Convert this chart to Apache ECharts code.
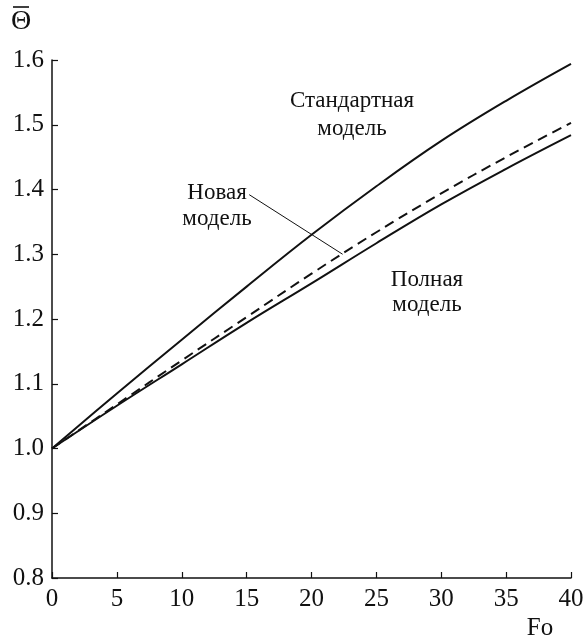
<!DOCTYPE html>
<html>
<head>
<meta charset="utf-8">
<script src="https://cdn.jsdelivr.net/npm/echarts@6/dist/echarts.min.js"></script>
<style>html,body{margin:0;padding:0;background:#fff}#c{width:587px;height:640px}</style>
</head>
<body>
<div id="c"></div>
<script>
var foValues = [0, 5, 10, 15, 20, 25, 30, 35, 40];
var standardModel = [1.000, 1.085, 1.168, 1.250, 1.330, 1.405, 1.475, 1.537, 1.594];
var newModel      = [1.000, 1.068, 1.136, 1.203, 1.270, 1.334, 1.394, 1.450, 1.503];
var fullModel     = [1.000, 1.066, 1.130, 1.194, 1.255, 1.317, 1.377, 1.432, 1.484];
var xTicks = [0, 5, 10, 15, 20, 25, 30, 35, 40];
var yTicks = [0.8, 0.9, 1.0, 1.1, 1.2, 1.3, 1.4, 1.5, 1.6];
var labelsStandard = ['Стандартная', 'модель'];
var labelsNew = ['Новая', 'модель'];
var labelsFull = ['Полная', 'модель'];

function pairs(xs, ys) { return xs.map(function (x, i) { return [x, ys[i]]; }); }

var FONT = '"Liberation Serif", "DejaVu Serif", serif';
var INK = '#111';
var chart = echarts.init(document.getElementById('c'), null, {renderer: 'canvas'});

var option = {
  animation: false,
  backgroundColor: '#fff',
  grid: {left: 52, right: 16, top: 60, bottom: 62, containLabel: false},
  xAxis: {
    type: 'value', min: xTicks[0], max: xTicks[xTicks.length - 1], interval: 5,
    axisLine: {lineStyle: {color: INK, width: 1.5}},
    axisTick: {inside: true, length: 6, lineStyle: {color: INK, width: 1.2}},
    axisLabel: {color: INK, fontFamily: FONT, fontSize: 25, margin: 9},
    splitLine: {show: false}
  },
  yAxis: {
    type: 'value', min: yTicks[0], max: yTicks[yTicks.length - 1], interval: 0.1,
    axisLine: {show: true, lineStyle: {color: INK, width: 1.5}},
    axisTick: {show: true, inside: true, length: 6, lineStyle: {color: INK, width: 1.2}},
    axisLabel: {color: INK, fontFamily: FONT, fontSize: 25, margin: 8,
      formatter: function (v) { return v.toFixed(1); }},
    splitLine: {show: false}
  },
  series: [
    {type: 'line', name: 'standard', data: pairs(foValues, standardModel), smooth: 0.4, symbol: 'none',
      lineStyle: {color: INK, width: 2}},
    {type: 'line', name: 'new', data: pairs(foValues, newModel), smooth: 0.4, symbol: 'none',
      lineStyle: {color: INK, width: 2, type: [10, 6]},
      markLine: {silent: true, symbol: ['none', 'none'], label: {show: false},
        lineStyle: {color: INK, width: 1, type: 'solid'},
        data: [[{coord: [15.2, 1.392]}, {coord: [22.4, 1.300]}]]}},
    {type: 'line', name: 'full', data: pairs(foValues, fullModel), smooth: 0.4, symbol: 'none',
      lineStyle: {color: INK, width: 2}}
  ],
  graphic: [
    {type: 'text', x: 21, y: 22, style: {text: 'Θ', fill: INK, font: '28px ' + FONT, align: 'center', verticalAlign: 'middle'}},
    {type: 'line', shape: {x1: 13, y1: 7, x2: 29, y2: 7}, style: {stroke: INK, lineWidth: 1.6}},
    {type: 'text', x: 540, y: 628, style: {text: 'Fo', fill: INK, font: '25px ' + FONT, align: 'center', verticalAlign: 'middle'}},
    {type: 'text', x: 352, y: 101, style: {text: labelsStandard[0], fill: INK, font: '23px ' + FONT, align: 'center', verticalAlign: 'middle'}},
    {type: 'text', x: 352, y: 129, style: {text: labelsStandard[1], fill: INK, font: '23px ' + FONT, align: 'center', verticalAlign: 'middle'}},
    {type: 'text', x: 217, y: 193, style: {text: labelsNew[0], fill: INK, font: '23px ' + FONT, align: 'center', verticalAlign: 'middle'}},
    {type: 'text', x: 217, y: 219, style: {text: labelsNew[1], fill: INK, font: '23px ' + FONT, align: 'center', verticalAlign: 'middle'}},
    {type: 'text', x: 427, y: 280, style: {text: labelsFull[0], fill: INK, font: '23px ' + FONT, align: 'center', verticalAlign: 'middle'}},
    {type: 'text', x: 427, y: 305, style: {text: labelsFull[1], fill: INK, font: '23px ' + FONT, align: 'center', verticalAlign: 'middle'}}
  ]
};
chart.setOption(option);
</script>
</body>
</html>
